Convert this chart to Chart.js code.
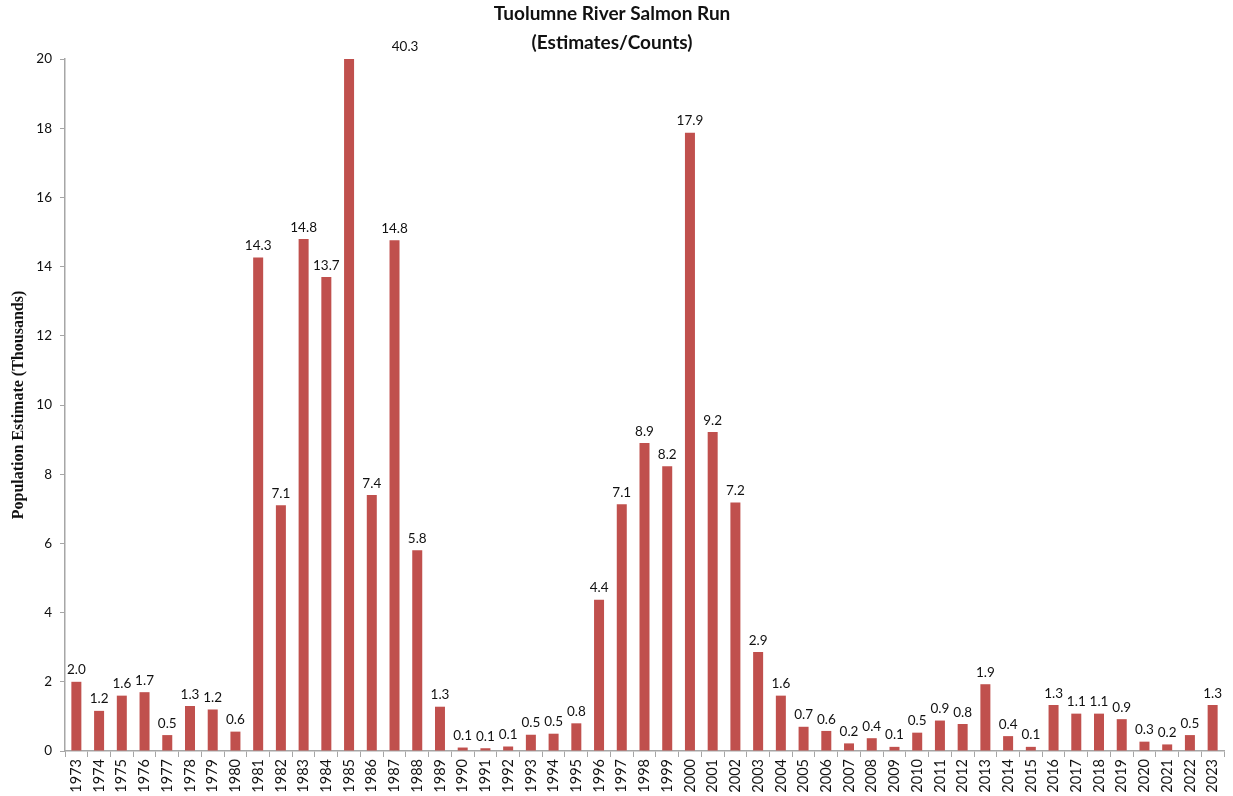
<!DOCTYPE html>
<html>
<head>
<meta charset="utf-8">
<script src="https://cdn.jsdelivr.net/npm/chart.js@4"></script>
<style>
  html, body { margin: 0; padding: 0; background: #fff; }
  #wrap { width: 1233px; height: 796px; position: relative; }
</style>
</head>
<body>
<div id="wrap"><canvas id="salmonChart"></canvas></div>
<script>
// Tuolumne River salmon run (thousands)
const years = [
    '1973', '1974', '1975', '1976', '1977', '1978', '1979', '1980', '1981', '1982',
    '1983', '1984', '1985', '1986', '1987', '1988', '1989', '1990', '1991', '1992',
    '1993', '1994', '1995', '1996', '1997', '1998', '1999', '2000', '2001', '2002',
    '2003', '2004', '2005', '2006', '2007', '2008', '2009', '2010', '2011', '2012',
    '2013', '2014', '2015', '2016', '2017', '2018', '2019', '2020', '2021', '2022', '2023'
];
const runSize = [
    2.0, 1.16, 1.6, 1.7, 0.46, 1.3, 1.2, 0.56, 14.26, 7.1,
    14.8, 13.7, 40.3, 7.4, 14.76, 5.8, 1.28, 0.1, 0.08, 0.13,
    0.47, 0.5, 0.8, 4.37, 7.13, 8.9, 8.23, 17.87, 9.22, 7.18,
    2.86, 1.6, 0.7, 0.58, 0.22, 0.37, 0.12, 0.53, 0.88, 0.78,
    1.93, 0.43, 0.12, 1.33, 1.08, 1.08, 0.92, 0.27, 0.19, 0.46, 1.33
];
const yTicks = [0, 2, 4, 6, 8, 10, 12, 14, 16, 18, 20];
const yMax = 20;

const barColor = '#c0504d';
const axisColor = '#a6a6a6';
const labelFont = "'Lato', 'Open Sans', sans-serif";

// Value labels above bars; values beyond the axis get their label beside the clipped bar
const barLabels = {
    id: 'barLabels',
    afterDatasetsDraw(chart) {
        const ctx = chart.ctx;
        const meta = chart.getDatasetMeta(0);
        ctx.save();
        ctx.font = '13.5px ' + labelFont;
        ctx.fillStyle = '#111';
        ctx.textAlign = 'center';
        ctx.textBaseline = 'bottom';
        meta.data.forEach((bar, i) => {
            const v = runSize[i];
            const text = v.toFixed(1);
            if (v > yMax) {
                ctx.fillText(text, bar.x + 56, chart.chartArea.top - 6);
            } else {
                ctx.fillText(text, bar.x, bar.y - 5);
            }
        });
        ctx.restore();
    }
};

new Chart(document.getElementById('salmonChart'), {
    type: 'bar',
    data: {
        labels: years,
        datasets: [{
            data: runSize,
            backgroundColor: barColor,
            borderWidth: 0,
            barPercentage: 0.44,
            categoryPercentage: 1.0
        }]
    },
    options: {
        responsive: true,
        maintainAspectRatio: false,
        animation: false,
        layout: { padding: { top: 0, right: 9, bottom: 0, left: 0 } },
        plugins: {
            legend: { display: false },
            tooltip: { enabled: false },
            title: {
                display: true,
                text: ['Tuolumne River Salmon Run', '(Estimates/Counts)'],
                color: '#111',
                font: { family: labelFont, size: 19, weight: 'bold', lineHeight: 1.5 },
                padding: { top: 0, bottom: 2 }
            }
        },
        scales: {
            x: {
                offset: true,
                grid: {
                    offset: true,
                    drawOnChartArea: false,
                    drawTicks: true,
                    tickLength: 6,
                    color: axisColor
                },
                border: { color: axisColor, width: 1.5 },
                ticks: {
                    color: '#111',
                    font: { family: labelFont, size: 14.5 },
                    minRotation: 90,
                    maxRotation: 90,
                    autoSkip: false,
                    padding: 2
                },
                afterFit(scale) { scale.height = 45; }
            },
            y: {
                min: 0,
                max: yMax,
                afterBuildTicks(scale) {
                    scale.ticks = yTicks.map(v => ({ value: v }));
                },
                grid: {
                    drawOnChartArea: false,
                    drawTicks: true,
                    tickLength: 5,
                    color: axisColor
                },
                border: { color: axisColor, width: 1.5 },
                ticks: {
                    color: '#111',
                    font: { family: labelFont, size: 13.5 },
                    padding: 8
                },
                title: {
                    display: true,
                    text: 'Population Estimate (Thousands)',
                    color: '#111',
                    font: { family: "'Liberation Serif', 'Times New Roman', serif", size: 16, weight: 'bold' },
                    padding: { top: 9, bottom: 4 }
                },
                afterFit(scale) { scale.width = 65; }
            }
        }
    },
    plugins: [barLabels]
});
</script>
</body>
</html>
